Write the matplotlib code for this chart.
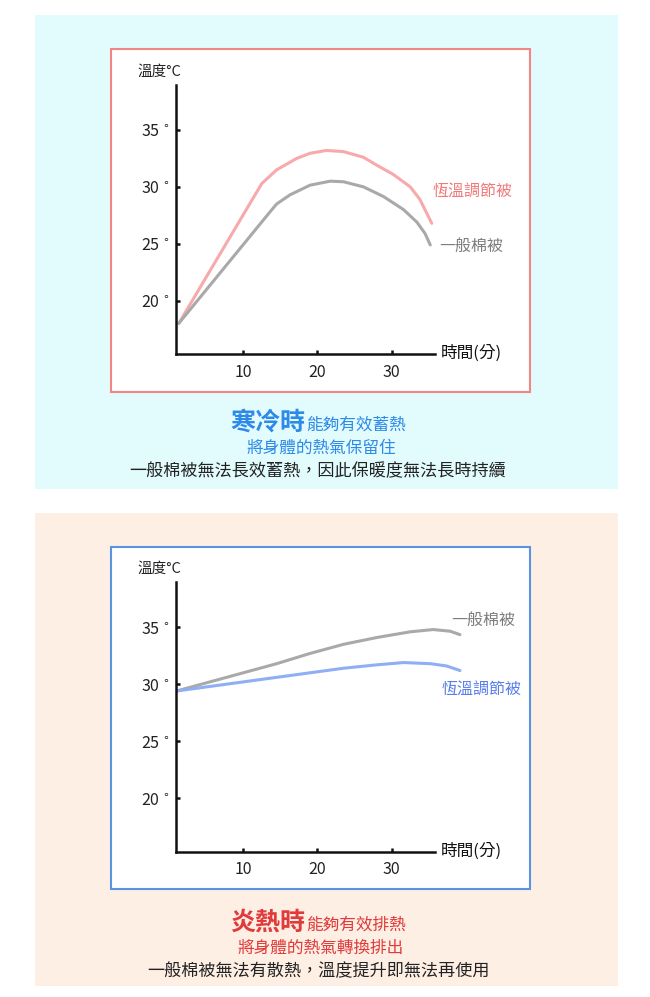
import matplotlib
matplotlib.use('Agg')
import matplotlib.pyplot as plt
from matplotlib.patches import Rectangle

plt.rcParams['font.family'] = ['Noto Sans CJK TC', 'DejaVu Sans']

W, H = 650, 997

# ---- data ----
y_ticks = [20, 25, 30, 35]
y_ticklabels = [r'20$^{\,\circ}$', r'25$^{\,\circ}$', r'30$^{\,\circ}$', r'35$^{\,\circ}$']
x_ticks = [10, 20, 30]
x_ticklabels = ['10', '20', '30']

# cold panel
cold_smart_x = [1.3, 12.5, 14.5, 17.2, 19.0, 21.2, 23.5, 26.2, 28.0, 30.2, 32.5, 33.8, 35.4]
cold_smart_y = [18.0, 30.3, 31.5, 32.5, 32.95, 33.2, 33.1, 32.6, 31.9, 31.1, 30.0, 28.9, 26.8]
cold_plain_x = [1.3, 13.6, 14.5, 16.3, 19.0, 21.7, 23.5, 26.2, 28.9, 31.6, 33.4, 34.5, 35.2]
cold_plain_y = [18.0, 27.8, 28.5, 29.3, 30.15, 30.5, 30.45, 30.0, 29.15, 28.0, 26.9, 25.9, 24.9]

# hot panel
hot_plain_x = [1.0, 5.5, 10.0, 14.5, 19.0, 23.5, 28.0, 32.5, 35.6, 37.9, 39.2]
hot_plain_y = [29.4, 30.2, 31.0, 31.8, 32.7, 33.5, 34.1, 34.6, 34.8, 34.65, 34.35]
hot_smart_x = [1.0, 5.5, 10.0, 14.5, 19.0, 23.5, 28.0, 31.6, 35.2, 37.4, 39.2]
hot_smart_y = [29.4, 29.8, 30.2, 30.6, 31.0, 31.4, 31.7, 31.9, 31.8, 31.6, 31.2]

smart_name = '恆溫調節被'
plain_name = '一般棉被'

cold_head = '寒冷時'
cold_tail = '能夠有效蓄熱'
cold_line2 = '將身體的熱氣保留住'
cold_line3 = '一般棉被無法長效蓄熱，因此保暖度無法長時持續'
hot_head = '炎熱時'
hot_tail = '能夠有效排熱'
hot_line2 = '將身體的熱氣轉換排出'
hot_line3 = '一般棉被無法有散熱，溫度提升即無法再使用'

# colours
cyan_bg = '#E2FBFD'
peach_bg = '#FEEFE5'
pink_border = '#F48585'
blue_border = '#5A93E0'
pink_line = '#F7A9AB'
pink_text = '#F07A7A'
gray_line = '#A9A9A9'
gray_text = '#7D7D7D'
blue_line = '#8FAEF4'
blue_text = '#5A7EEA'
title_blue = '#2D8AE8'
title_red = '#E03A3A'


def fx(x):
    return x / W


def fy(y):
    return 1 - y / H


def box(x0, y0, x1, y1):
    return [fx(x0), fy(y1), (x1 - x0) / W, (y1 - y0) / H]


fig = plt.figure(figsize=(W / 100, H / 100), dpi=100)
fig.patch.set_facecolor('white')

# panel backgrounds
fig.patches.append(Rectangle((fx(34.5), fy(489.5)), (617.5 - 34.5) / W, (489.5 - 15) / H,
                             transform=fig.transFigure, facecolor=cyan_bg, edgecolor='none', zorder=0))
fig.patches.append(Rectangle((fx(34.5), fy(986)), (617.5 - 34.5) / W, (986 - 512.5) / H,
                             transform=fig.transFigure, facecolor=peach_bg, edgecolor='none', zorder=0))
# chart frames
fig.patches.append(Rectangle((fx(111), fy(392)), (530 - 111) / W, (392 - 49.5) / H,
                             transform=fig.transFigure, facecolor='white', edgecolor=pink_border,
                             linewidth=1.5, zorder=1))
fig.patches.append(Rectangle((fx(111), fy(889)), (530 - 111) / W, (889 - 546.5) / H,
                             transform=fig.transFigure, facecolor='white', edgecolor=blue_border,
                             linewidth=1.5, zorder=1))


def make_chart(top):
    ax = fig.add_axes(box(175.6, top, 469.6, top + 269.2))
    ax.set_zorder(3)
    ax.set_facecolor('none')
    ax.set_xlim(0.88, 40.5)
    ax.set_ylim(15.3, 38.95)
    for s in ['top', 'right']:
        ax.spines[s].set_visible(False)
    for s in ['left', 'bottom']:
        ax.spines[s].set_linewidth(1.8)
        ax.spines[s].set_color('#111111')
    ax.spines['bottom'].set_bounds(0.88, 35.8)
    ax.set_xticks(x_ticks)
    ax.set_xticklabels(x_ticklabels)
    ax.set_yticks(y_ticks)
    ax.set_yticklabels(y_ticklabels)
    ax.tick_params(axis='both', direction='in', length=3, width=1.8, color='#111111',
                   labelsize=11.5, labelcolor='#222222')
    ax.tick_params(axis='x', pad=7)
    ax.tick_params(axis='y', pad=4)
    return ax


kw = dict(lw=2.2, solid_capstyle='round', solid_joinstyle='round')

ax1 = make_chart(85)
ax1.plot(cold_smart_x, cold_smart_y, color=pink_line, **kw)
ax1.plot(cold_plain_x, cold_plain_y, color=gray_line, **kw)

ax2 = make_chart(582.3)
ax2.plot(hot_plain_x, hot_plain_y, color=gray_line, **kw)
ax2.plot(hot_smart_x, hot_smart_y, color=blue_line, **kw)

# axis titles
for off in [0, 497.5]:
    fig.text(fx(137), fy(71.5 + off), '溫度°C', fontsize=10.5, color='#222222', va='center', ha='left')
    fig.text(fx(441), fy(353.3 + off), '時間(分)', fontsize=12, color='#111111', va='center', ha='left')

# series labels
fig.text(fx(433), fy(191.5), smart_name, fontsize=11.5, color=pink_text, va='center', ha='left')
fig.text(fx(439), fy(246.5), plain_name, fontsize=11.5, color=gray_text, va='center', ha='left')
fig.text(fx(451.5), fy(620), plain_name, fontsize=11.5, color=gray_text, va='center', ha='left')
fig.text(fx(441.5), fy(689), smart_name, fontsize=11.5, color=blue_text, va='center', ha='left')

# captions
for off, head, tail, l2, l3, col in [(0, cold_head, cold_tail, cold_line2, cold_line3, title_blue),
                                     (500, hot_head, hot_tail, hot_line2, hot_line3, title_red)]:
    fig.text(fx(305), fy(430 + off), head, fontsize=18, fontweight='bold', color=col,
             ha='right', va='baseline')
    fig.text(fx(306), fy(430 + off), tail, fontsize=12, fontweight='medium', color=col,
             ha='left', va='baseline')
    fig.text(fx(321), fy(448 + off), l2, fontsize=12, fontweight='medium', color=col,
             ha='center', va='center')
    fig.text(fx(318), fy(471 + off), l3, fontsize=12.3, color='#222222',
             ha='center', va='center')

fig.savefig('out.png', dpi=100)
